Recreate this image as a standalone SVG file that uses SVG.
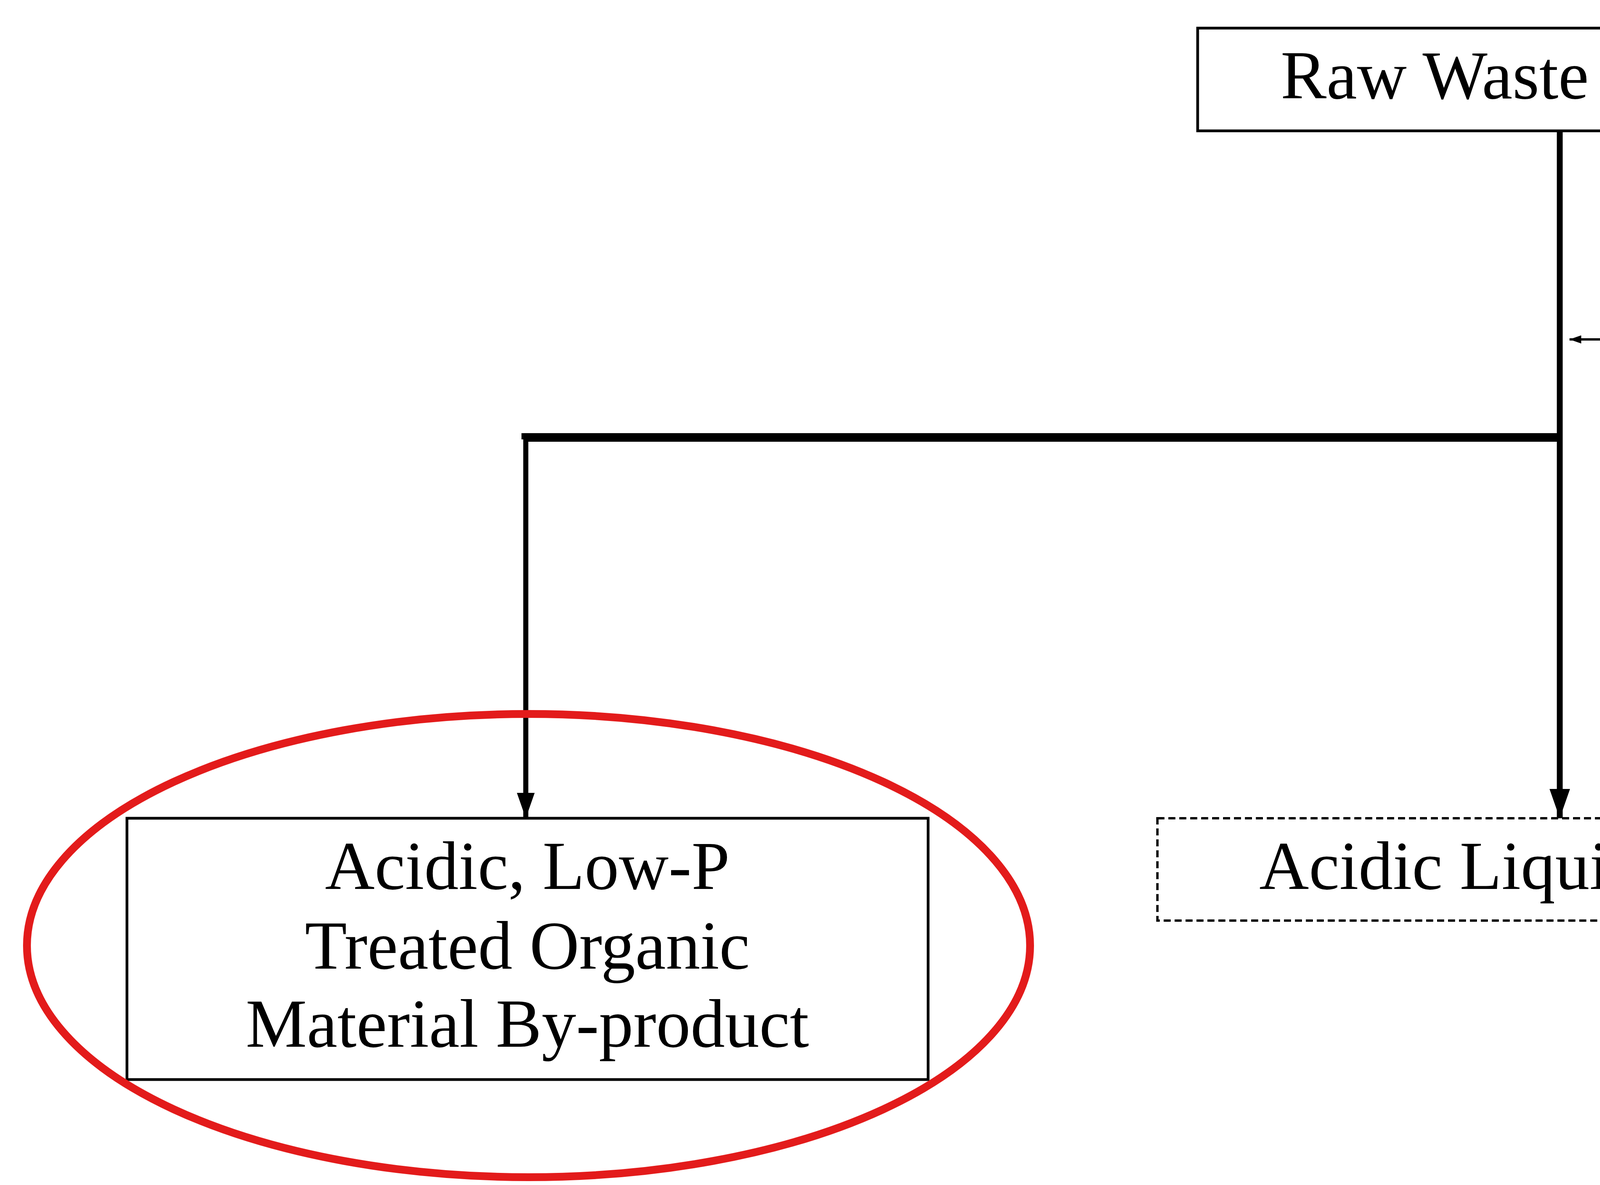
<svg xmlns="http://www.w3.org/2000/svg" width="7725" height="3034" viewBox="0 0 7725 3034">
<style>
.t{font-family:"Liberation Serif","Times New Roman",serif;fill:#000;text-anchor:middle}
.big{font-size:176px}
.sm{font-size:121px}
.box{fill:#fff;stroke:#000;stroke-width:7}
.dash{fill:#fff;stroke:#000;stroke-width:6;stroke-dasharray:18 10}
</style>
<defs>
<marker id="ah" viewBox="0 0 10 10" refX="10" refY="5" markerWidth="8" markerHeight="8" markerUnits="userSpaceOnUse" orient="auto"><path d="M0,0 L10,5 L0,10 z" fill="#000"/></marker>
<marker id="ahb" viewBox="0 0 10 10" refX="10" refY="5" markerWidth="40" markerHeight="100" markerUnits="userSpaceOnUse" orient="auto" preserveAspectRatio="none"><path d="M0,0 L10,5 L0,10 z" fill="#000"/></marker>
<marker id="aht" viewBox="0 0 10 10" refX="10" refY="5" markerWidth="5" markerHeight="3.5" orient="auto" preserveAspectRatio="none"><path d="M0,0 L10,5 L0,10 z" fill="#000"/></marker>
</defs>
<g id="connectors" fill="none" stroke="#000">
<line x1="3993" y1="335" x2="3993" y2="2095" stroke-width="15" marker-end="url(#aht)"/>
<polyline points="3993,1120 1346,1120 1346,1125" stroke-width="22"/>
<line x1="1346" y1="1110" x2="1346" y2="2095" stroke-width="13" marker-end="url(#aht)"/>
<line x1="4565" y1="869" x2="4018" y2="869" stroke-width="6" marker-end="url(#aht)" style="stroke-width:6"/>
<line x1="5019" y1="2280" x2="6572" y2="2305" stroke-width="24" marker-end="url(#aht)"/>
<line x1="5951" y1="1916" x2="5951" y2="2266" stroke-width="5" marker-end="url(#aht)"/>
</g>
<g id="raw"><rect class="box" x="3066" y="72" width="1854" height="263"/><text class="t big" x="3993" y="252">Raw Waste Material</text></g>
<g id="acid-label"><text class="t sm" x="5014" y="768">Acid Solution</text><text class="t sm" x="5014" y="918">(Step 1)</text></g>
<g id="byproduct"><rect class="box" x="325" y="2095" width="2051" height="669"/>
<text class="t big" x="1350" y="2276">Acidic, Low-P</text><text class="t big" x="1350" y="2480">Treated Organic</text><text class="t big" x="1350" y="2680">Material By-product</text></g>
<g id="highlight"><ellipse cx="1353" cy="2421" rx="1284" ry="593" fill="none" stroke="#e31b1b" stroke-width="20"/></g>
<g id="extract"><rect class="dash" x="2963" y="2095" width="2056" height="262"/><text class="t big" x="3991" y="2276">Acidic Liquid Extract</text></g>
<g id="alk-label"><text class="t sm" x="5980" y="1605">Alkaline Solution +</text><text class="t sm" x="5980" y="1750">Polymer (Steps 2 &amp; 3)</text></g>
<g id="recovered"><rect class="dash" x="6606" y="1964" width="1075" height="467"/><text class="t big" x="7139" y="2149">Recovered</text><text class="t big" x="7139" y="2353">Phosphate</text></g>
</svg>
